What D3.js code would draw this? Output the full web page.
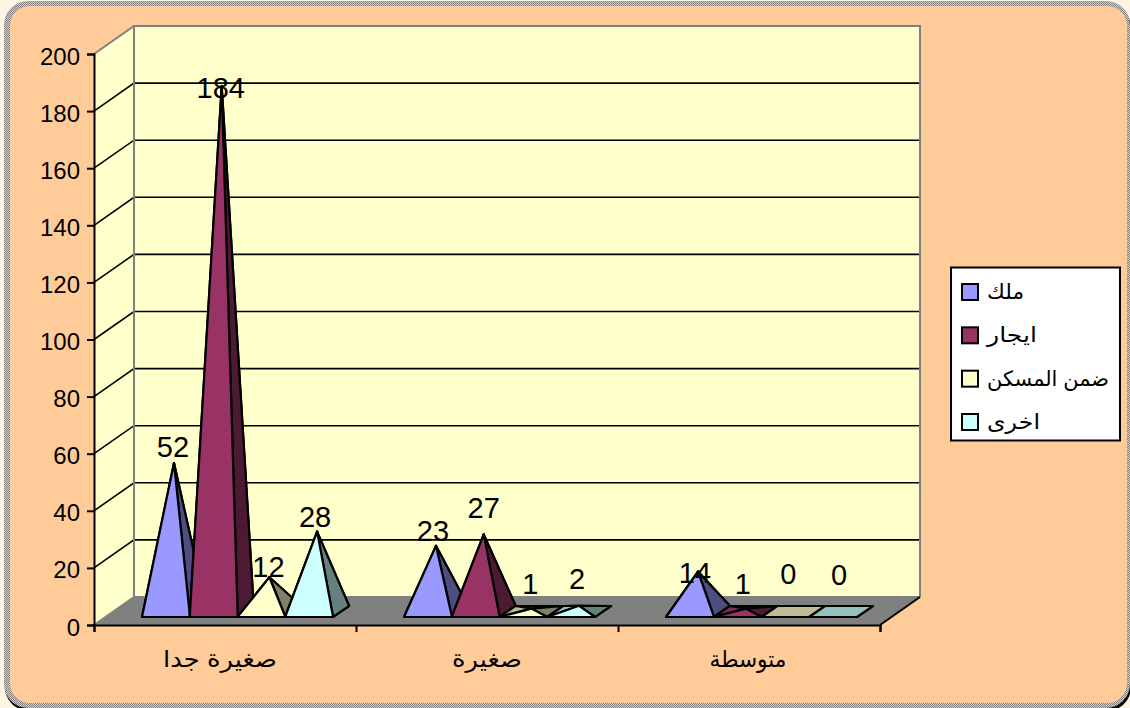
<!DOCTYPE html>
<html><head><meta charset="utf-8">
<script src="https://cdn.jsdelivr.net/npm/d3@7/dist/d3.min.js"></script>
<style>html,body{margin:0;padding:0;background:#fff;overflow:hidden}svg{display:block}
text{font-family:"Liberation Sans","DejaVu Sans",Arial,sans-serif;fill:#000}</style></head>
<body><div id="chart"></div>
<script>
const categories = ["صغيرة جدا", "صغيرة", "متوسطة"];
const seriesNames = ["ملك", "ايجار", "ضمن المسكن", "اخرى"];
const milk = [52, 23, 14];
const rent = [184, 27, 1];
const withinHome = [12, 1, 0];
const other = [28, 2, 0];
const yTicks = [0, 20, 40, 60, 80, 100, 120, 140, 160, 180, 200];
const seriesColors = ["#9999ff", "#993366", "#ffffcc", "#ccffff"];
const sideColors = ["#4d4d80", "#4d1933", "#808066", "#668080"];
const flatColors = ["#8c8cc0", "#7d2f58", "#bcbc96", "#96c0c0"];
// label nudges: [dx, dy] for each series / category
const labelNudges = [
  [[-1, -16], [-3, -15], [-3, 1]],
  [[-1, 1], [0, -27], [-3, -25]],
  [[-1, -11], [-1, -25], [-5, -38]],
  [[-2, -15], [-2, -27], [-2, -37]]
];
// rendered widths of the Arabic labels, to match the reference's wider font
const categoryWidths = [114, 70, 77];
const categoryNudges = [-5, 0, -1];
const legendWidths = [37, 50, 122, 53];
const allSeries = [milk, rent, withinHome, other];

const W = 1130, H = 708;
const depth = {x: 40, y: -28};
const box = {left: 94, right: 880, top: 54, bottom: 625};

const svg = d3.select("#chart").append("svg").attr("width", W).attr("height", H);
const defs = svg.append("defs");
const pat = defs.append("pattern").attr("id", "dither").attr("width", 2).attr("height", 2).attr("patternUnits", "userSpaceOnUse");
pat.append("rect").attr("width", 2).attr("height", 2).attr("fill", "#d0d0d0");
pat.append("rect").attr("width", 1).attr("height", 1).attr("fill", "#808080");
pat.append("rect").attr("x", 1).attr("y", 1).attr("width", 1).attr("height", 1).attr("fill", "#808080");

svg.append("rect").attr("width", W).attr("height", H).attr("fill", "#fdf4e3");
svg.append("rect").attr("x", 5).attr("y", 4).attr("width", W - 4).attr("height", H - 1).attr("rx", 24).attr("fill", "#000");
svg.append("rect").attr("x", 4).attr("y", 1).attr("width", W - 4).attr("height", H - 1).attr("rx", 24).attr("fill", "url(#dither)");
svg.append("rect").attr("x", 10).attr("y", 6).attr("width", W - 13).attr("height", H - 11).attr("rx", 20).attr("fill", "#ffcc99");

const y = d3.scaleLinear().domain([0, 200]).range([box.bottom, box.top]);
const x = d3.scaleBand().domain(categories).range([box.left, box.right]);
const unit = y(0) - y(1);

const poly = pts => d3.line()(pts) + "Z";
const g = svg.append("g");

// walls
g.append("path").attr("d", poly([[box.left, box.top], [box.left + depth.x, box.top + depth.y], [box.left + depth.x, box.bottom + depth.y], [box.left, box.bottom]])).attr("fill", "#ffffcc");
g.append("rect").attr("x", box.left + depth.x).attr("y", box.top + depth.y).attr("width", box.right - box.left).attr("height", box.bottom - box.top).attr("fill", "#ffffcc");
// floor
g.append("path").attr("d", poly([[box.left, box.bottom], [box.left + depth.x, box.bottom + depth.y], [box.right + depth.x, box.bottom + depth.y], [box.right, box.bottom]])).attr("fill", "#808080");
// gridlines
yTicks.filter(t => t > 0 && t < 200).forEach(t => {
  g.append("path").attr("fill", "none").attr("stroke", "#000").attr("stroke-width", 1.6)
    .attr("d", d3.line()([[box.left, y(t)], [box.left + depth.x, y(t) + depth.y], [box.right + depth.x, y(t) + depth.y]]));
});
// wall outline
g.append("path").attr("fill", "none").attr("stroke", "#808080").attr("stroke-width", 2)
  .attr("d", d3.line()([[box.left, box.top], [box.left + depth.x, box.top + depth.y], [box.right + depth.x, box.top + depth.y], [box.right + depth.x, box.bottom + depth.y]]));
g.append("path").attr("fill", "none").attr("stroke", "#808080").attr("stroke-width", 2)
  .attr("d", d3.line()([[box.left + depth.x, box.top + depth.y], [box.left + depth.x, box.bottom + depth.y], [box.right + depth.x, box.bottom + depth.y]]));
g.append("path").attr("fill", "none").attr("stroke", "#808080").attr("stroke-width", 2)
  .attr("d", d3.line()([[box.left, box.bottom], [box.left + depth.x, box.bottom + depth.y]]));

// pyramids
const inset = 48;
const baseFront = box.bottom - 8;
const pd = {x: 16, y: -11};
const cell = x.bandwidth();
function face(sel, pts, fill) {
  sel.append("path").attr("d", poly(pts)).attr("fill", fill).attr("stroke", "#000")
    .attr("stroke-width", 2.2).attr("stroke-linejoin", "round");
}
const marks = svg.append("g");
categories.forEach((c, ci) => {
  allSeries.forEach((vals, si) => {
    const v = vals[ci];
    const x0 = x(c) + 48 + si * 47.7;
    const A = [x0, baseFront], B = [x0 + inset, baseFront], C = [x0 + inset + pd.x, baseFront + pd.y], D = [x0 + pd.x, baseFront + pd.y];
    const apex = [x0 + inset / 2 + pd.x / 2, baseFront + pd.y / 2 - v * unit];
    const p = marks.append("g");
    if (v === 0) {
      face(p, [A, B, C, D], flatColors[si]);
      return;
    }
    face(p, [D, C, apex], flatColors[si]);
    face(p, [A, D, apex], flatColors[si]);
    face(p, [B, C, apex], sideColors[si]);
    face(p, [A, B, apex], seriesColors[si]);
  });
});

// axes
const yAxis = d3.axisLeft(y).tickValues(yTicks).tickSize(7).tickPadding(7);
const ya = svg.append("g").attr("transform", `translate(${box.left},0)`).call(yAxis);
ya.selectAll("text").attr("font-size", 24).attr("dy", "0.42em").style("font-family", '"Liberation Sans"');
ya.selectAll("line,path").attr("stroke", "#000").attr("stroke-width", 2);
const xEdges = d3.scaleLinear().domain([0, 3]).range([box.left, box.right]);
const xAxis = d3.axisBottom(xEdges).tickValues([0, 1, 2, 3]).tickSize(7).tickFormat("");
const xa = svg.append("g").attr("transform", `translate(0,${box.bottom})`).call(xAxis);
xa.selectAll("line,path").attr("stroke", "#000").attr("stroke-width", 2);
// right floor edge
svg.append("path").attr("fill", "none").attr("stroke", "#000").attr("stroke-width", 2)
  .attr("d", d3.line()([[box.right, box.bottom], [box.right + depth.x, box.bottom + depth.y]]));

categories.forEach((c, i) => {
  const w = categoryWidths[i];
  svg.append("text").attr("x", x(c) + cell / 2 + categoryNudges[i] - w / 2).attr("y", 667)
    .attr("font-size", 23).attr("textLength", w).attr("lengthAdjust", "spacingAndGlyphs").text(c);
});

// data labels
allSeries.forEach((vals, si) => {
  vals.forEach((v, ci) => {
    const x0 = x(categories[ci]) + 48 + si * 47.7;
    const ax = x0 + inset / 2 + pd.x / 2;
    const ay = baseFront + pd.y / 2 - v * unit;
    const n = labelNudges[si][ci];
    svg.append("text").attr("x", ax + n[0]).attr("y", ay + n[1]).attr("dy", "0.36em")
      .attr("text-anchor", "middle").attr("font-size", 29).text(v);
  });
});

// legend
const lg = svg.append("g");
lg.append("rect").attr("x", 951).attr("y", 267.5).attr("width", 169).attr("height", 173).attr("fill", "#fff").attr("stroke", "#000").attr("stroke-width", 2);
const ly = d3.scalePoint().domain(seriesNames).range([292, 422]);
seriesNames.forEach((n, i) => {
  lg.append("rect").attr("x", 962).attr("y", ly(n) - 8).attr("width", 16).attr("height", 16)
    .attr("fill", seriesColors[i]).attr("stroke", "#000").attr("stroke-width", 2);
  lg.append("text").attr("x", 987).attr("y", ly(n) + 7).attr("font-size", 21)
    .attr("textLength", legendWidths[i]).attr("lengthAdjust", "spacingAndGlyphs").text(n);
});
</script></body></html>
